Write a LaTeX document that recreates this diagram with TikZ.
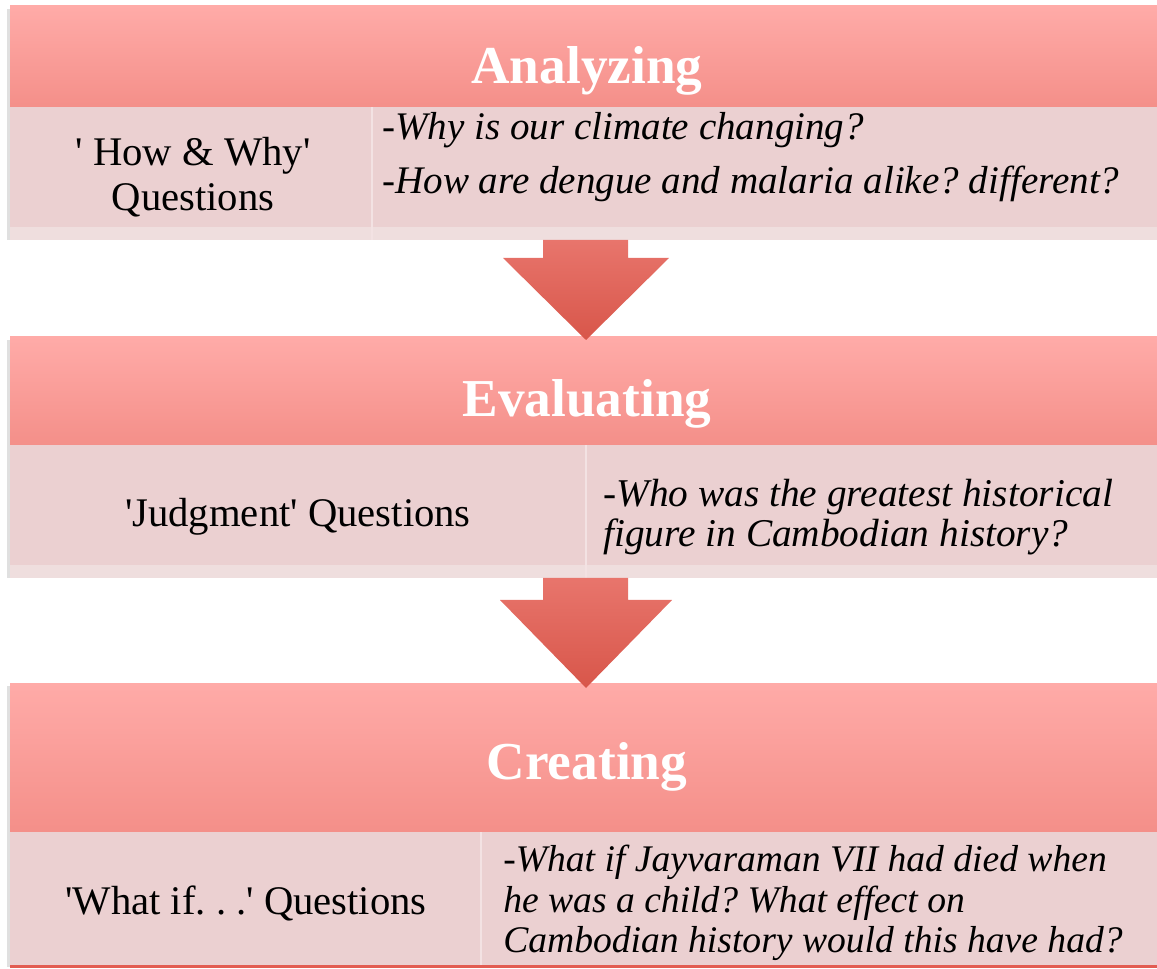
\documentclass[tikz,border=0pt]{standalone}
\usepackage{fontspec}
\setmainfont{Liberation Serif}
\frenchspacing
\definecolor{htop}{RGB}{255,171,168}
\definecolor{hbot}{RGB}{244,143,137}
\definecolor{bodyc}{RGB}{235,208,209}
\definecolor{bandc}{RGB}{239,222,222}
\definecolor{divc}{RGB}{243,226,227}
\definecolor{atop}{RGB}{232,117,108}
\definecolor{abot}{RGB}{216,86,74}
\definecolor{edgec}{RGB}{226,92,82}
\newcommand{\sq}{\textquotesingle}
\begin{document}
\begin{tikzpicture}[x=0.75pt,y=-0.75pt,
  headband/.style={top color=htop,bottom color=hbot,draw=none},
  bodyband/.style={fill=bodyc,draw=none},
  lightband/.style={fill=bandc,draw=none},
  divider/.style={draw=divc,line width=1.5pt},
  blockarrow/.style={top color=atop,bottom color=abot,draw=none},
  headtext/.style={text=white,font=\fontsize{40}{48}\selectfont\bfseries,inner sep=0pt},
  lefttext/.style={text=black,align=center,inner sep=0pt},
  righttext/.style={text=black,align=left,anchor=west,inner sep=0pt}]
\useasboundingbox (0,0) rectangle (1157,969);
% left shadows
\fill[black!12] (7,9) rectangle (10,240);
\fill[black!12] (7,340) rectangle (10,578);
\fill[black!12] (7,686) rectangle (10,967);
% Block 1
\path[headband] (10,6) rectangle (1157,107);
\path[bodyband] (10,107) rectangle (1157,227);
\path[lightband] (10,227) rectangle (1157,240);
\draw[divider] (372,107) -- (372,240);
% Block 2
\path[headband] (10,337) rectangle (1157,445);
\path[bodyband] (10,445) rectangle (1157,565);
\path[lightband] (10,565) rectangle (1157,578);
\draw[divider] (586,445) -- (586,578);
% Block 3
\path[headband] (10,683) rectangle (1157,832);
\path[bodyband] (10,832) rectangle (1157,965);
\draw[divider] (481,832) -- (481,965);
\draw[edgec,line width=2.2pt] (10,966.5) -- (1157,966.5);
% arrows
\path[blockarrow] (543,240) -- (628,240) -- (628,258) -- (669,258) -- (586,340) -- (503,258) -- (543,258) -- cycle;
\path[blockarrow] (543,578) -- (628,578) -- (628,600) -- (672,600) -- (586,688) -- (500,600) -- (543,600) -- cycle;
% texts
\node[headtext] (h1) at (587,71) {Analyzing};
\node[headtext] (h2) at (587,404) {Evaluating};
\node[headtext] (h3) at (587,767) {Creating};
\node[lefttext,font=\fontsize{30.5}{33.75}\selectfont] (l1) at (193,177) {\sq{} How \& Why\sq\\Questions};
\node[lefttext,font=\fontsize{30.5}{33.75}\selectfont] (l2) at (298,517) {\sq Judgment\sq{} Questions};
\node[lefttext,font=\fontsize{30.5}{33.75}\selectfont] (l3) at (246,903) {\sq What if. . .\sq{} Questions};
\node[righttext,font=\fontsize{29.3}{40.5}\selectfont] (r1) at (382,157) {-\textit{Why is our climate changing?}\\-\textit{How are dengue and malaria alike? different?}};
\node[righttext,font=\fontsize{29.5}{30}\selectfont] (r2) at (603,517) {-\textit{Who was the greatest historical}\\\textit{figure in Cambodian history?}};
\node[righttext,font=\fontsize{28.2}{30.4}\selectfont] (r3) at (503,903) {-\textit{What if Jayvaraman VII had died when}\\\textit{he was a child? What effect on}\\\textit{Cambodian history would this have had?}};
\end{tikzpicture}
\end{document}
